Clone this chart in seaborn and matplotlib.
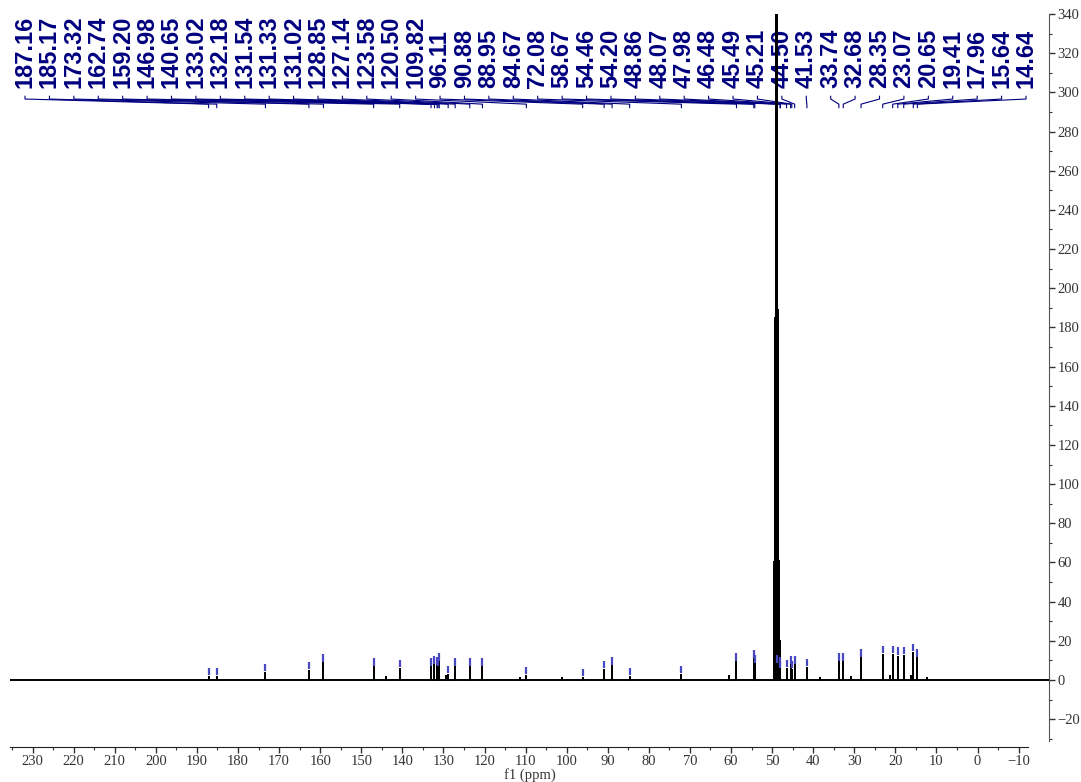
import numpy as np
import pandas as pd
import matplotlib
matplotlib.use("Agg")
import matplotlib.pyplot as plt
import seaborn as sns
from matplotlib.transforms import blended_transform_factory

# ---- data ----
peak_ppm = [187.16, 185.17, 173.32, 162.74, 159.20, 146.98, 140.65, 133.02, 132.18,
            131.54, 131.33, 131.02, 128.85, 127.14, 123.58, 120.50, 109.82, 96.11,
            90.88, 88.95, 84.67, 72.08, 58.67, 54.46, 54.20, 48.86, 48.07, 47.98,
            46.48, 45.49, 45.21, 44.50, 41.53, 33.74, 32.68, 28.35, 23.07, 20.65,
            19.41, 17.96, 15.64, 14.64]
peak_height = [1.5, 1.5, 3.5, 4.5, 8.5, 6.5, 5.5, 6.5, 7.5,
               7.0, 6.5, 9.0, 2.5, 6.5, 6.5, 6.5, 2.0, 1.0,
               5.0, 7.0, 1.5, 2.5, 9.0, 10.5, 8.0, 8.0, 7.0, 5.0,
               5.5, 7.5, 5.0, 7.5, 6.0, 9.0, 9.0, 11.0, 13.0, 13.0,
               12.0, 12.5, 14.0, 11.0]
peak_labels = [f"{p:.2f}" for p in peak_ppm]

solvent_ppm = [49.43, 49.21, 49.00, 48.79, 48.57, 48.36, 48.15]
solvent_height = [60, 185, 420, 400, 189, 61, 20]

minor_ppm = [143.9, 129.3, 111.3, 101.2, 60.4, 38.4, 30.9, 21.3, 16.1, 12.4]
minor_height = [1.5, 1.8, 1.0, 0.8, 2.0, 1.0, 1.5, 2.0, 2.0, 0.8]

x_ticks = list(range(230, -11, -10))
y_ticks = list(range(-20, 341, 20))
x_label = "f1 (ppm)"

# ---- build the trace (baseline with sticks) ----
all_ppm = peak_ppm + solvent_ppm + minor_ppm
all_h = peak_height + solvent_height + minor_height
order = np.argsort(all_ppm)[::-1]
XMAX, XMIN = 235.5, -17.4
xs, ys = [XMAX], [0.0]
for i in order:
    p, h = all_ppm[i], all_h[i]
    xs += [p, p, p]
    ys += [0.0, h, 0.0]
xs.append(XMIN)
ys.append(0.0)
trace = pd.DataFrame({"ppm": xs, "intensity": ys})

# ---- figure ----
sns.set_style("ticks")
plt.rcParams["font.family"] = ["Liberation Serif", "DejaVu Serif"]
fig = plt.figure(figsize=(10.81, 7.82), dpi=100)
ax = fig.add_axes([10 / 1081, 35 / 782, 1039 / 1081, 733 / 782])

sns.lineplot(data=trace, x="ppm", y="intensity", sort=False, estimator=None,
             color="black", lw=1.4, ax=ax, zorder=3)

ax.set_xlim(XMAX, XMIN)
ax.set_ylim(-34.2, 340)

# blue peak markers just above each labelled peak
ph = np.array(peak_height)
ax.vlines(peak_ppm, ph + 0.9, ph + 4.6, color="#4848c0", lw=1.6, zorder=4)

# peak labels across the top with connectors
n = len(peak_ppm)
frac_x = np.linspace((25 - 10) / 1039, (1026 - 10) / 1039, n)
label_ppm = XMAX + frac_x * (XMIN - XMAX)
trans = blended_transform_factory(ax.transData, ax.transAxes)
navy = "#00007f"
for lp, pp, txt in zip(label_ppm, peak_ppm, peak_labels):
    ax.text(lp, 0.899, txt, rotation=90, ha="center", va="bottom",
            transform=trans, color=navy, fontsize=17, fontweight="bold",
            family=["Liberation Sans", "DejaVu Sans"], zorder=1)
    ax.plot([lp, lp, pp, pp], [0.888, 0.884, 0.877, 0.872], transform=trans,
            color=navy, lw=0.8, zorder=1, clip_on=False)

# axes styling
for s in ["left", "top"]:
    ax.spines[s].set_visible(False)
ax.spines["bottom"].set_bounds(235.5, -12.2)
ax.spines["right"].set_bounds(-31, 340)
ax.spines["bottom"].set_color("#222222")
ax.spines["right"].set_color("#555555")
ax.yaxis.tick_right()
ax.set_xticks(x_ticks)
ax.set_xticks(list(range(235, -11, -5)), minor=True)
ax.set_yticks(y_ticks)
ax.set_yticks(list(range(-30, 331, 10)), minor=True)
ax.tick_params(axis="both", which="major", length=4, width=1, color="#333333",
               labelsize=10.5, labelcolor="#333333", direction="out", pad=2)
ax.tick_params(axis="both", which="minor", length=2.5, width=0.8, color="#333333",
               direction="out")
ax.set_xlabel(x_label, fontsize=10.5, color="#333333", labelpad=0)
ax.set_ylabel("")
ax.grid(False)

fig.savefig("out.png", dpi=100)
